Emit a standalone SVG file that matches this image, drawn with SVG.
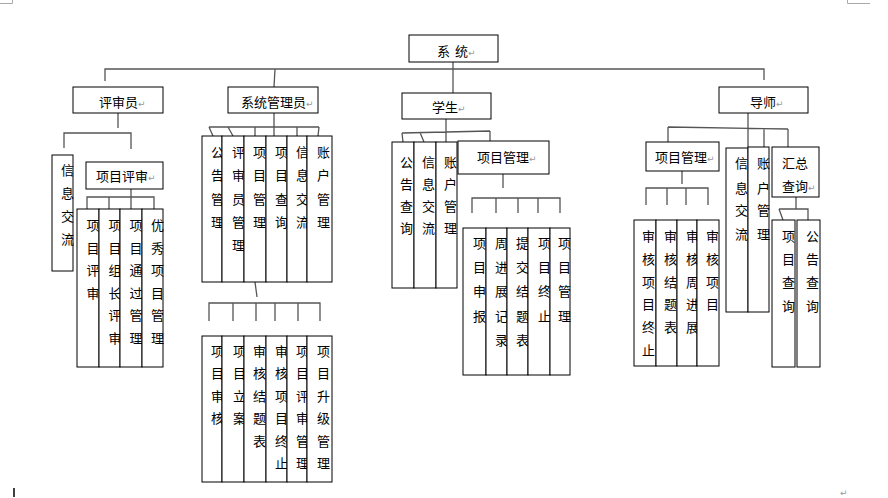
<svg xmlns="http://www.w3.org/2000/svg" width="888" height="498" viewBox="0 0 888 498">
<style>
.box{fill:#fff;stroke:#000;stroke-width:1}
.t{font-family:"Noto Sans CJK SC","Liberation Sans",sans-serif;font-size:13px;fill:#000}
.pm{font-family:"DejaVu Sans",sans-serif;font-size:9px;fill:#999}
.c{fill:none;stroke:#555;stroke-width:1.3}
.mk{fill:none;stroke:#aaa;stroke-width:1}
</style>
<rect width="888" height="498" fill="#fff"/>
<g id="page-marks">
<path class="mk" d="M0,3.5H12.5V0M847.5,0V3.5H870"/>
<path d="M14,488V497" stroke="#000" stroke-width="1.5"/>
<text class="pm" x="840" y="496">↵</text>
</g>
<g id="connectors">
<path class="c" d="M453,62V93"/>
<path class="c" d="M105,81V69H764V80"/>
<path class="c" d="M275,69L274,87"/>
<path class="c" d="M118,113V128M64,148V133H131V149"/>
<path class="c" d="M131,189V197M87,209V197H154V209M109,197V209M131,197V209"/>
<path class="c" d="M274,113V136M209,127H319M209,127L213,136M228,127L233,136M255,127V136M297,127V136M319,127L318,136"/>
<path class="c" d="M255,282L257,297M209,321V303H320V321M233,303V321M256,303V321M275,303V321M298,303V321"/>
<path class="c" d="M446,119V142M402,133L490,131M402,133L403,142M420,132.5L424,142M490,131V141"/>
<path class="c" d="M503,174V188M472,213V198H560V213M496,198V213M518,198V213M538,198V213"/>
<path class="c" d="M748,113V147M668,127L788,129M668,127V142M764,128V147M788,129V147"/>
<path class="c" d="M682,171V184M646,205V188H708V205M667,188V205M686,188V205"/>
<path class="c" d="M796,197V209M779,209H808V220M779,209L783,220"/>
</g>
<g id="n-system"><rect class="box" x="409" y="35" width="89" height="27"/><text class="t" y="56"><tspan x="437">系</tspan><tspan x="455">统</tspan><tspan class="pm">↵</tspan></text></g>
<g id="n-reviewer"><rect class="box" x="73" y="87" width="90" height="26"/><text class="t" x="99" y="107">评审员<tspan class="pm">↵</tspan></text></g>
<g id="n-admin"><rect class="box" x="228" y="87" width="90" height="26"/><text class="t" x="241" y="107">系统管理员<tspan class="pm">↵</tspan></text></g>
<g id="n-student"><rect class="box" x="402" y="93" width="89" height="26"/><text class="t" x="432" y="112">学生<tspan class="pm">↵</tspan></text></g>
<g id="n-tutor"><rect class="box" x="719" y="87" width="89" height="26"/><text class="t" x="750" y="107">导师<tspan class="pm">↵</tspan></text></g>

<g id="rv-info"><rect class="box" x="52" y="155" width="21" height="116"/><text class="t"><tspan x="61" y="175">信</tspan><tspan x="61" y="198">息</tspan><tspan x="61" y="221">交</tspan><tspan x="61" y="244">流</tspan></text></g>
<g id="rv-proj"><rect class="box" x="86" y="162" width="77" height="27"/><text class="t" x="96" y="181">项目评审<tspan class="pm">↵</tspan></text></g>
<g id="rv-p1"><rect class="box" x="77" y="209" width="22" height="158"/><text class="t"><tspan x="86.5" y="230">项</tspan><tspan x="86.5" y="253">目</tspan><tspan x="86.5" y="275">评</tspan><tspan x="86.5" y="298">审</tspan></text></g>
<g id="rv-p2"><rect class="box" x="99" y="209" width="21" height="158"/><text class="t"><tspan x="108.5" y="230">项</tspan><tspan x="108.5" y="253">目</tspan><tspan x="108.5" y="275">组</tspan><tspan x="108.5" y="298">长</tspan><tspan x="108.5" y="320">评</tspan><tspan x="108.5" y="343">审</tspan></text></g>
<g id="rv-p3"><rect class="box" x="120" y="209" width="22" height="158"/><text class="t"><tspan x="129.5" y="230">项</tspan><tspan x="129.5" y="253">目</tspan><tspan x="129.5" y="275">通</tspan><tspan x="129.5" y="298">过</tspan><tspan x="129.5" y="320">管</tspan><tspan x="129.5" y="343">理</tspan></text></g>
<g id="rv-p4"><rect class="box" x="142" y="209" width="21" height="158"/><text class="t"><tspan x="151" y="230">优</tspan><tspan x="151" y="253">秀</tspan><tspan x="151" y="275">项</tspan><tspan x="151" y="298">目</tspan><tspan x="151" y="320">管</tspan><tspan x="151" y="343">理</tspan></text></g>

<g id="ad-1"><rect class="box" x="202" y="136" width="20" height="146"/><text class="t"><tspan x="211" y="157">公</tspan><tspan x="211" y="180">告</tspan><tspan x="211" y="204">管</tspan><tspan x="211" y="227">理</tspan></text></g>
<g id="ad-2"><rect class="box" x="222" y="136" width="22" height="146"/><text class="t"><tspan x="232" y="157">评</tspan><tspan x="232" y="180">审</tspan><tspan x="232" y="204">员</tspan><tspan x="232" y="227">管</tspan><tspan x="232" y="250">理</tspan></text></g>
<g id="ad-3"><rect class="box" x="244" y="136" width="22" height="146"/><text class="t"><tspan x="253" y="157">项</tspan><tspan x="253" y="180">目</tspan><tspan x="253" y="204">管</tspan><tspan x="253" y="227">理</tspan></text></g>
<g id="ad-4"><rect class="box" x="266" y="136" width="21" height="146"/><text class="t"><tspan x="275" y="157">项</tspan><tspan x="275" y="180">目</tspan><tspan x="275" y="204">查</tspan><tspan x="275" y="227">询</tspan></text></g>
<g id="ad-5"><rect class="box" x="287" y="136" width="20" height="146"/><text class="t"><tspan x="296" y="157">信</tspan><tspan x="296" y="180">息</tspan><tspan x="296" y="204">交</tspan><tspan x="296" y="227">流</tspan></text></g>
<g id="ad-6"><rect class="box" x="307" y="136" width="25" height="146"/><text class="t"><tspan x="317" y="157">账</tspan><tspan x="317" y="180">户</tspan><tspan x="317" y="204">管</tspan><tspan x="317" y="227">理</tspan></text></g>

<g id="ad-7"><rect class="box" x="202" y="336" width="20" height="146"/><text class="t"><tspan x="211" y="356">项</tspan><tspan x="211" y="378">目</tspan><tspan x="211" y="401">审</tspan><tspan x="211" y="423">核</tspan></text></g>
<g id="ad-8"><rect class="box" x="222" y="336" width="22" height="146"/><text class="t"><tspan x="233" y="356">项</tspan><tspan x="233" y="378">目</tspan><tspan x="233" y="401">立</tspan><tspan x="233" y="423">案</tspan></text></g>
<g id="ad-9"><rect class="box" x="244" y="336" width="22" height="146"/><text class="t"><tspan x="253" y="356">审</tspan><tspan x="253" y="378">核</tspan><tspan x="253" y="401">结</tspan><tspan x="253" y="423">题</tspan><tspan x="253" y="446">表</tspan></text></g>
<g id="ad-10"><rect class="box" x="266" y="336" width="21" height="146"/><text class="t"><tspan x="275" y="356">审</tspan><tspan x="275" y="378">核</tspan><tspan x="275" y="401">项</tspan><tspan x="275" y="423">目</tspan><tspan x="275" y="446">终</tspan><tspan x="275" y="468">止</tspan></text></g>
<g id="ad-11"><rect class="box" x="287" y="336" width="20" height="146"/><text class="t"><tspan x="296" y="356">项</tspan><tspan x="296" y="378">目</tspan><tspan x="296" y="401">评</tspan><tspan x="296" y="423">审</tspan><tspan x="296" y="446">管</tspan><tspan x="296" y="468">理</tspan></text></g>
<g id="ad-12"><rect class="box" x="307" y="336" width="25" height="146"/><text class="t"><tspan x="317" y="356">项</tspan><tspan x="317" y="378">目</tspan><tspan x="317" y="401">升</tspan><tspan x="317" y="423">级</tspan><tspan x="317" y="446">管</tspan><tspan x="317" y="468">理</tspan></text></g>

<g id="st-1"><rect class="box" x="392" y="142" width="22" height="146"/><text class="t"><tspan x="400" y="167">公</tspan><tspan x="400" y="189">告</tspan><tspan x="400" y="211">查</tspan><tspan x="400" y="233">询</tspan></text></g>
<g id="st-2"><rect class="box" x="414" y="142" width="22" height="146"/><text class="t"><tspan x="422" y="167">信</tspan><tspan x="422" y="189">息</tspan><tspan x="422" y="211">交</tspan><tspan x="422" y="233">流</tspan></text></g>
<g id="st-3"><rect class="box" x="436" y="142" width="21" height="146"/><text class="t"><tspan x="444" y="167">账</tspan><tspan x="444" y="189">户</tspan><tspan x="444" y="211">管</tspan><tspan x="444" y="233">理</tspan></text></g>
<g id="st-proj"><rect class="box" x="458" y="141" width="91" height="33"/><text class="t" x="477" y="162">项目管理<tspan class="pm">↵</tspan></text></g>
<g id="st-p1"><rect class="box" x="463" y="228" width="23" height="147"/><text class="t"><tspan x="473" y="248">项</tspan><tspan x="473" y="272">目</tspan><tspan x="473" y="296">申</tspan><tspan x="473" y="321">报</tspan></text></g>
<g id="st-p2"><rect class="box" x="486" y="228" width="21" height="147"/><text class="t"><tspan x="495" y="248">周</tspan><tspan x="495" y="272">进</tspan><tspan x="495" y="296">展</tspan><tspan x="495" y="321">记</tspan><tspan x="495" y="345">录</tspan></text></g>
<g id="st-p3"><rect class="box" x="507" y="228" width="21" height="147"/><text class="t"><tspan x="516" y="248">提</tspan><tspan x="516" y="272">交</tspan><tspan x="516" y="296">结</tspan><tspan x="516" y="321">题</tspan><tspan x="516" y="345">表</tspan></text></g>
<g id="st-p4"><rect class="box" x="528" y="228" width="22" height="147"/><text class="t"><tspan x="538" y="248">项</tspan><tspan x="538" y="272">目</tspan><tspan x="538" y="296">终</tspan><tspan x="538" y="321">止</tspan></text></g>
<g id="st-p5"><rect class="box" x="550" y="228" width="20" height="147"/><text class="t"><tspan x="558" y="248">项</tspan><tspan x="558" y="272">目</tspan><tspan x="558" y="296">管</tspan><tspan x="558" y="321">理</tspan></text></g>

<g id="tu-proj"><rect class="box" x="646" y="142" width="73" height="29"/><text class="t" x="655" y="162">项目管理<tspan class="pm">↵</tspan></text></g>
<g id="tu-info"><rect class="box" x="726" y="148" width="22" height="164"/><text class="t"><tspan x="735" y="168">信</tspan><tspan x="735" y="193">息</tspan><tspan x="735" y="215">交</tspan><tspan x="735" y="239">流</tspan></text></g>
<g id="tu-acct"><rect class="box" x="748" y="147" width="21" height="165"/><text class="t"><tspan x="757" y="168">账</tspan><tspan x="757" y="193">户</tspan><tspan x="757" y="215">管</tspan><tspan x="757" y="239">理</tspan></text></g>
<g id="tu-sum"><rect class="box" x="772" y="147" width="47" height="50"/><text class="t"><tspan x="782" y="168">汇总</tspan><tspan x="782" y="191">查询</tspan><tspan class="pm">↵</tspan></text></g>
<g id="tu-p1"><rect class="box" x="634" y="220" width="22" height="146"/><text class="t"><tspan x="642" y="241">审</tspan><tspan x="642" y="264">核</tspan><tspan x="642" y="287">项</tspan><tspan x="642" y="309">目</tspan><tspan x="642" y="332">终</tspan><tspan x="642" y="355">止</tspan></text></g>
<g id="tu-p2"><rect class="box" x="656" y="220" width="21" height="146"/><text class="t"><tspan x="664" y="241">审</tspan><tspan x="664" y="264">核</tspan><tspan x="664" y="287">结</tspan><tspan x="664" y="309">题</tspan><tspan x="664" y="332">表</tspan></text></g>
<g id="tu-p3"><rect class="box" x="677" y="220" width="20" height="146"/><text class="t"><tspan x="686" y="241">审</tspan><tspan x="686" y="264">核</tspan><tspan x="686" y="287">周</tspan><tspan x="686" y="309">进</tspan><tspan x="686" y="332">展</tspan></text></g>
<g id="tu-p4"><rect class="box" x="697" y="220" width="22" height="146"/><text class="t"><tspan x="706" y="241">审</tspan><tspan x="706" y="264">核</tspan><tspan x="706" y="287">项</tspan><tspan x="706" y="309">目</tspan></text></g>
<g id="tu-q1"><rect class="box" x="772" y="220" width="23" height="147"/><text class="t"><tspan x="782" y="241">项</tspan><tspan x="782" y="264">目</tspan><tspan x="782" y="287">查</tspan><tspan x="782" y="311">询</tspan></text></g>
<g id="tu-q2"><rect class="box" x="797" y="220" width="23" height="147"/><text class="t"><tspan x="806" y="241">公</tspan><tspan x="806" y="264">告</tspan><tspan x="806" y="287">查</tspan><tspan x="806" y="311">询</tspan></text></g>
</svg>
